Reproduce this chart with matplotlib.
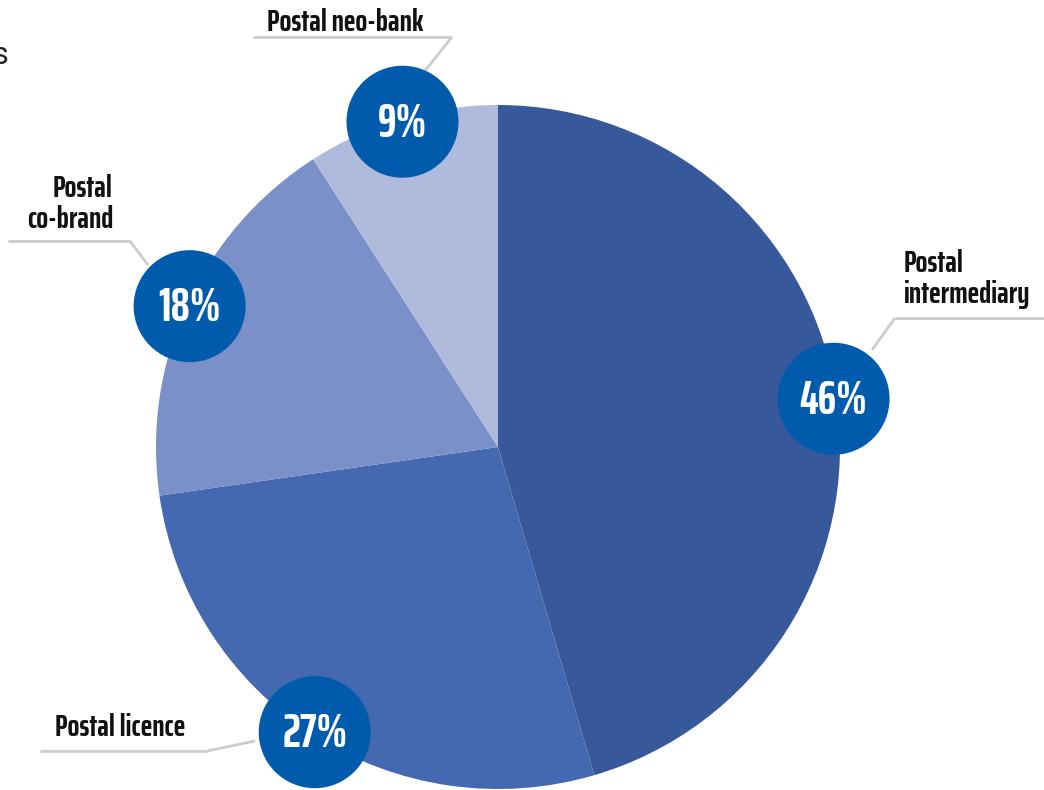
import matplotlib
matplotlib.use("Agg")
import matplotlib.pyplot as plt
from matplotlib.patches import Circle
import numpy as np

categories = ["Postal\nintermediary", "Postal licence", "Postal\nco-brand", "Postal neo-bank"]
counts = [5, 3, 2, 1]
pct_labels = ["46%", "27%", "18%", "9%"]
slice_colors = ["#37589A", "#4469B0", "#7B90C8", "#B0BADD"]
badge_color = "#005BAC"
line_color = "#CCCCCC"

W, H = 1044, 790
fig = plt.figure(figsize=(W / 100, H / 100), dpi=100)
ax = fig.add_axes([0, 0, 1, 1])

def Y(y):
    return H - y

cx, cy, R = 498, Y(447), 342
wedges, _ = ax.pie(counts, colors=slice_colors, startangle=90, counterclock=False,
                   center=(cx, cy), radius=R, frame=True,
                   wedgeprops=dict(linewidth=0))
ax.set_xlim(0, W)
ax.set_ylim(0, H)
ax.set_aspect("equal")
ax.axis("off")

FONT = ["Saira ExtraCondensed", "Oswald", "DejaVu Sans"]

# badges
for w, lab in zip(wedges, pct_labels):
    mid = np.deg2rad((w.theta1 + w.theta2) / 2)
    bx = cx + 339 * np.cos(mid)
    by = cy + 339 * np.sin(mid)
    ax.add_patch(Circle((bx, by), 56, color=badge_color, zorder=5, linewidth=0))
    ax.text(bx, by - 15, lab, color="white", fontsize=34, fontweight="bold",
            family=FONT, ha="center", va="baseline", zorder=6)

# leader lines (pixel coords)
leaders = [
    [(895, 318), (1044, 318)], [(895, 318), (872, 350)],
    [(40, 751), (207, 751)], [(207, 751), (255, 741)],
    [(8, 241), (130, 241)], [(130, 241), (148, 265)],
    [(253, 37), (452, 37)], [(452, 37), (424, 72)],
]
for seg in leaders:
    xs = [p[0] for p in seg]
    ys = [Y(p[1]) for p in seg]
    ax.plot(xs, ys, color=line_color, lw=2, zorder=3, solid_capstyle="butt")

lab_kw = dict(fontsize=22.5, fontweight="bold", family=FONT, color="#111111",
              va="baseline", zorder=4)
# (x, first baseline, ha)
label_pos = [(904, 272, "left"), (55, 736, "left"), (113, 197, "right"), (267, 31, "left")]
for text, (x, b, ha) in zip(categories, label_pos):
    for k, line in enumerate(text.split("\n")):
        ax.text(x, Y(b + 31 * k), line, ha=ha, **lab_kw)

# cropped text at top-left edge
ax.text(8, Y(64), "s", ha="right", va="baseline", fontsize=22,
        family=["Roboto", "DejaVu Sans"], color="#222222")

fig.savefig("out.png", dpi=100)
